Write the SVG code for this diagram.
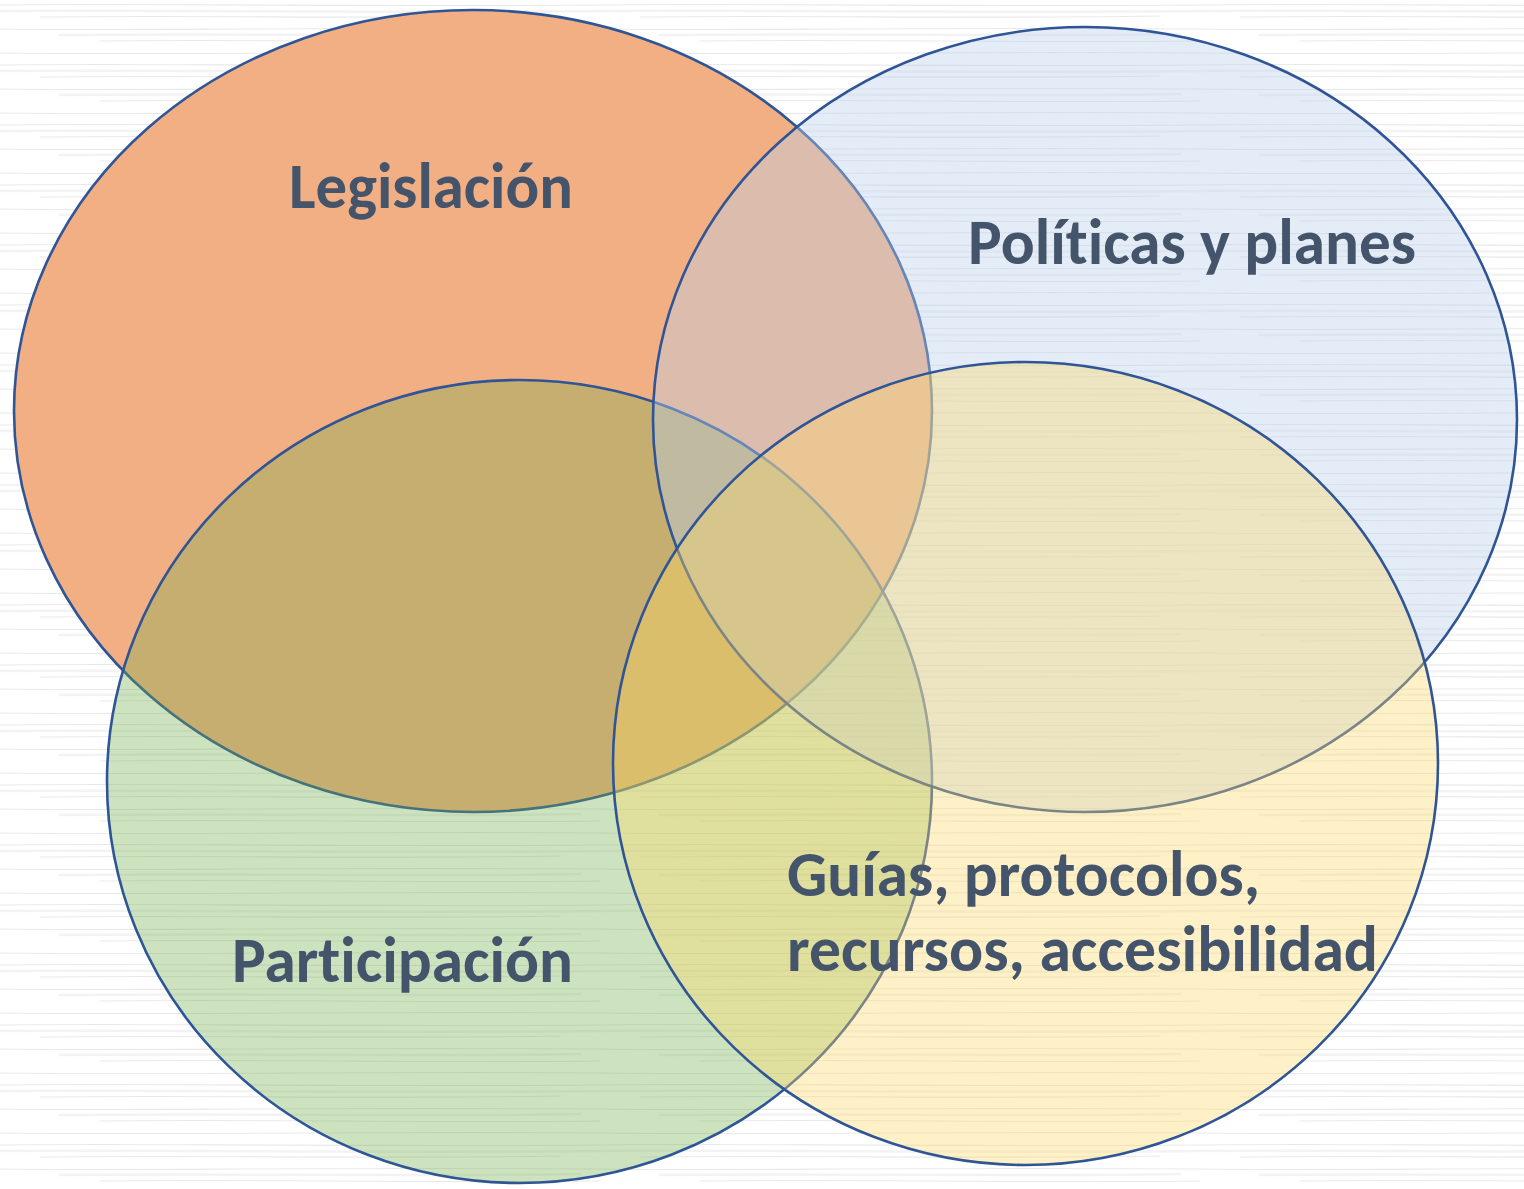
<svg xmlns="http://www.w3.org/2000/svg" width="1524" height="1189" viewBox="0 0 1524 1189">
  <defs>
    <pattern id="grainA" patternUnits="userSpaceOnUse" width="600" height="60">
      <g fill="none" stroke="#e9e9e9" stroke-width="1.2" stroke-linecap="round">
        <path d="M0 5 C150 3 300 7 600 5"/>
        <path d="M40 17 C200 15 380 19 560 16"/>
        <path d="M0 29 C120 31 300 27 600 29"/>
        <path d="M100 41 C250 39 420 43 600 41"/>
        <path d="M0 53 C200 55 400 51 600 53"/>
      </g>
      <g fill="none" stroke="#f3f3f3" stroke-width="2.5" stroke-linecap="round">
        <path d="M0 11 C200 10 380 13 600 11"/>
        <path d="M60 35 C260 33 400 37 580 34"/>
      </g>
    </pattern>
    <style>
      .ell { stroke: #2F5597; stroke-width: 2.6; }
      .lbl { font-family: Calibri, Carlito, "Open Sans", "Noto Sans", sans-serif; font-weight: bold; font-size: 65px; fill: #44546A; font-variant-ligatures: none; }
    </style>
  </defs>

  <g id="background">
    <rect x="0" y="0" width="1524" height="1189" fill="#ffffff"/>
    <rect x="0" y="0" width="1524" height="1189" fill="url(#grainA)"/>
  </g>

  <g id="node-legislacion">
    <ellipse class="ell" cx="473" cy="411" rx="459" ry="401" fill="#F3AF84"/>
    <text class="lbl" x="289" y="208" textLength="284" lengthAdjust="spacingAndGlyphs">Legislación</text>
  </g>

  <g id="node-participacion">
    <ellipse class="ell" cx="519.5" cy="781.5" rx="412.5" ry="401.5" fill="#70AD47" fill-opacity="0.35"/>
    <text class="lbl" x="232" y="982" textLength="341" lengthAdjust="spacingAndGlyphs">Participación</text>
  </g>

  <g id="node-politicas">
    <ellipse class="ell" cx="1085" cy="419.5" rx="432" ry="392.5" fill="#B9CFEB" fill-opacity="0.4"/>
    <text class="lbl" x="968" y="264" textLength="448" lengthAdjust="spacingAndGlyphs">Políticas y planes</text>
  </g>

  <g id="node-guias">
    <ellipse class="ell" cx="1025.5" cy="763.5" rx="412.5" ry="401.5" fill="#FFD966" fill-opacity="0.37"/>
    <text class="lbl" x="787" y="896" textLength="473" lengthAdjust="spacingAndGlyphs">Guías, protocolos,</text>
    <text class="lbl" x="787" y="971" textLength="591" lengthAdjust="spacingAndGlyphs">recursos, accesibilidad</text>
  </g>

  <g id="connectors"/>
</svg>
